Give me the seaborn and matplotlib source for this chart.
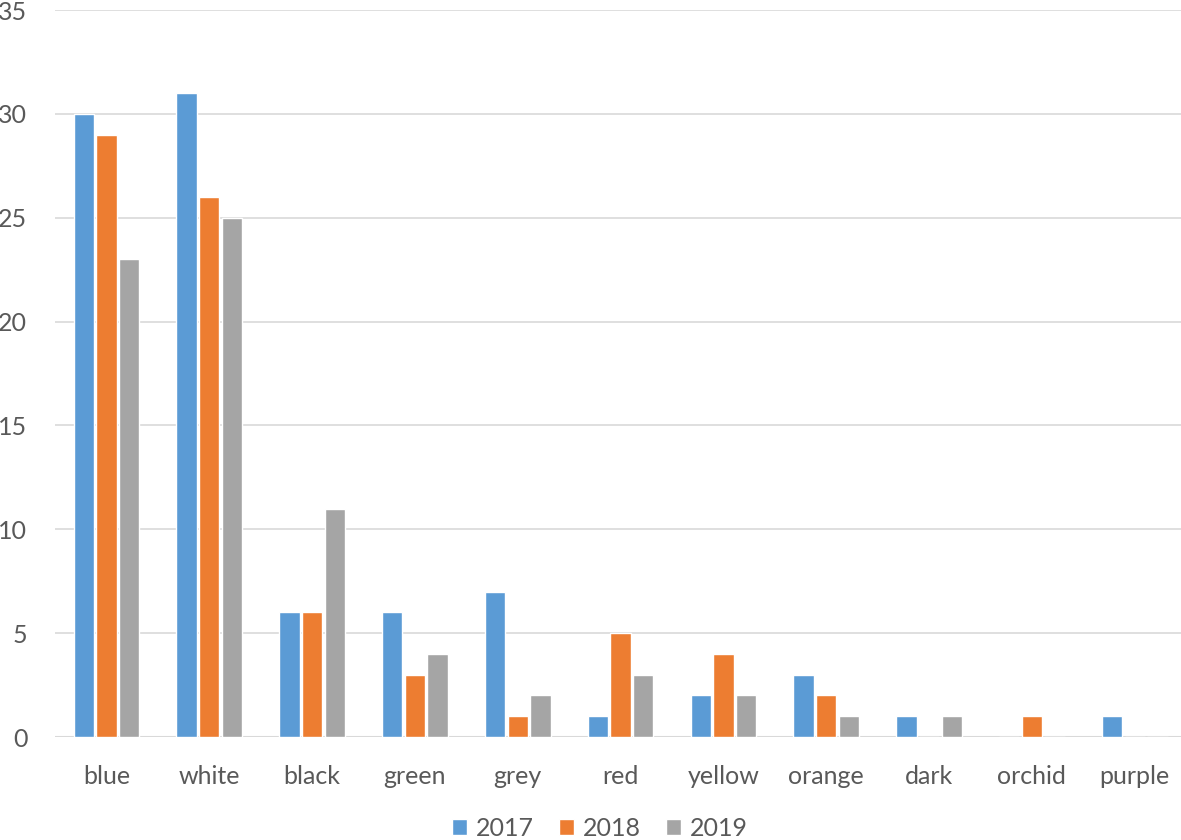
import pandas as pd
import seaborn as sns
import matplotlib.pyplot as plt

# ----------------- Data -----------------
colors_cat = ["blue", "white", "black", "green", "grey", "red",
              "yellow", "orange", "dark", "orchid", "purple"]
years = ["2017", "2018", "2019"]
v2017 = [30, 31, 6, 6, 7, 1, 2, 3, 1, 0, 1]
v2018 = [29, 26, 6, 3, 1, 5, 4, 2, 0, 1, 0]
v2019 = [23, 25, 11, 4, 2, 3, 2, 1, 1, 0, 0]
y_ticks = [0, 5, 10, 15, 20, 25, 30, 35]

df = pd.DataFrame({"color": colors_cat * 3,
                   "year": [y for y in years for _ in colors_cat],
                   "count": v2017 + v2018 + v2019})

palette = {"2017": "#5B9BD5", "2018": "#ED7D31", "2019": "#A5A5A5"}
text_col = "#595959"

# ----------------- Plot -----------------
sns.set_style("white")
plt.rcParams["font.family"] = ["Lato", "DejaVu Sans"]

fig = plt.figure(figsize=(11.81, 8.40), dpi=100)
ax = fig.add_axes([0.0466, 0.1226, 0.9534, 0.8654])

sns.barplot(data=df, x="color", y="count", hue="year", order=colors_cat,
            hue_order=years, palette=palette, width=0.66, gap=0.1,
            saturation=1, ax=ax, legend=True)

ax.set_ylim(0, 35)
ax.set_xlim(-0.5, 10.45)
ax.set_yticks(y_ticks)
ax.yaxis.grid(True, color="#D9D9D9", linewidth=1.2)
ax.set_axisbelow(True)
for s in ax.spines.values():
    s.set_visible(False)
ax.axhline(0, color="#D9D9D9", linewidth=1.5, zorder=0)
ax.tick_params(axis="both", length=0, labelsize=18, labelcolor=text_col)
ax.tick_params(axis="x", pad=20)
ax.tick_params(axis="y", pad=20)
ax.set_xlabel("")
ax.set_ylabel("")

ax.legend(loc="center", bbox_to_anchor=(0.508, 0.014),
          bbox_transform=fig.transFigure,
          ncol=3, frameon=False, fontsize=18, labelcolor=text_col,
          handlelength=0.6, handleheight=0.6, handletextpad=0.35,
          columnspacing=1.0)

fig.savefig("out.png", dpi=100)
